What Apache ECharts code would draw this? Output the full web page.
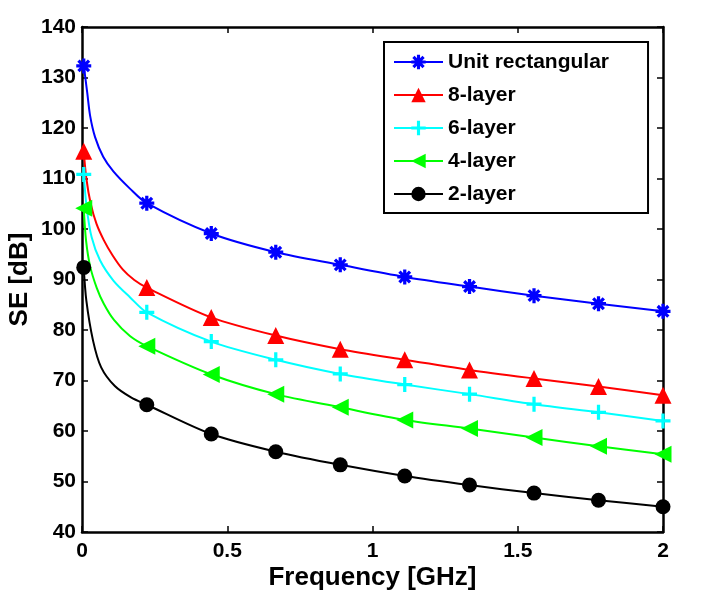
<!DOCTYPE html>
<html>
<head>
<meta charset="utf-8">
<script src="https://cdn.jsdelivr.net/npm/echarts@6/dist/echarts.min.js"></script>
<style>
  html, body { margin: 0; padding: 0; background: #fff; }
  #main { width: 708px; height: 596px; }
</style>
</head>
<body>
<div id="main"></div>
<script>
// marker positions (GHz)
var freqMarks = [0.006, 0.223, 0.445, 0.667, 0.889, 1.111, 1.334, 1.556, 1.778, 2.0];

// SE values at the markers (dB)
var unitRect = [132.3, 105.1, 99.1, 95.4, 92.9, 90.5, 88.6, 86.8, 85.2, 83.7];
var layer8 = [115.4, 88.4, 82.5, 78.9, 76.2, 74.1, 72.1, 70.4, 68.8, 67.1];
var layer6 = [110.8, 83.5, 77.7, 74.1, 71.3, 69.2, 67.3, 65.3, 63.7, 62.0];
var layer4 = [104.1, 76.8, 71.2, 67.3, 64.7, 62.2, 60.5, 58.7, 57.0, 55.4];
var layer2 = [92.4, 65.2, 59.4, 55.9, 53.3, 51.1, 49.3, 47.7, 46.3, 45.0];

// extra points read off the steep part of each curve (no marker)
var unitRectCurve = [[0.010, 130.6], [0.018, 127.0], [0.028, 122.4], [0.045, 118.2], [0.073, 114.3], [0.108, 111.4], [0.165, 108.0]];
var layer8Curve = [[0.015, 110.0], [0.030, 105.0], [0.050, 101.0], [0.075, 97.8], [0.105, 94.8], [0.140, 92.0], [0.180, 89.9]];
var layer6Curve = [[0.016, 104.3], [0.033, 98.4], [0.062, 93.8], [0.108, 89.8], [0.165, 86.5]];
var layer4Curve = [[0.014, 97.7], [0.028, 92.6], [0.051, 88.3], [0.075, 85.2], [0.110, 82.0], [0.165, 78.8]];
var layer2Curve = [[0.015, 85.8], [0.038, 77.9], [0.066, 72.6], [0.113, 68.9], [0.170, 66.6]];

var yTicks = [40, 50, 60, 70, 80, 90, 100, 110, 120, 130, 140];

var asterisk = 'path://M-1.3,-6L1.3,-6L1.3,6L-1.3,6Z M-6,-1.3L6,-1.3L6,1.3L-6,1.3Z ' +
  'M-5.16,-3.32L-3.32,-5.16L5.16,3.32L3.32,5.16Z M-3.32,5.16L-5.16,3.32L3.32,-5.16L5.16,-3.32Z';
var plus = 'path://M-1.3,-6L1.3,-6L1.3,6L-1.3,6Z M-6,-1.3L6,-1.3L6,1.3L-6,1.3Z';

var font = 'Liberation Sans, Arial, Helvetica, sans-serif';

function buildData(marks, curve) {
  var pts = marks.map(function (v, i) {
    return { value: [freqMarks[i], v] };
  });
  curve.forEach(function (p) {
    pts.push({ value: p, symbol: 'none' });
  });
  pts.sort(function (a, b) { return a.value[0] - b.value[0]; });
  return pts;
}

function makeSeries(name, color, marks, curve, symbol, size, rotate) {
  return {
    name: name,
    type: 'line',
    smooth: 0.3,
    symbol: symbol,
    symbolSize: size,
    symbolRotate: rotate || 0,
    showAllSymbol: true,
    lineStyle: { color: color, width: 2 },
    itemStyle: { color: color },
    data: buildData(marks, curve)
  };
}

var chart = echarts.init(document.getElementById('main'));

var tickStyle = { show: true, inside: true, length: 6, lineStyle: { color: '#000', width: 1.5 } };
var lineStyle = { show: true, onZero: false, lineStyle: { color: '#000', width: 2.5 } };

chart.setOption({
  animation: false,
  backgroundColor: '#fff',
  grid: { left: 82, right: 45, top: 27, bottom: 64, outerBoundsMode: 'none' },
  legend: {
    orient: 'vertical',
    left: 384,
    top: 42,
    padding: [8, 39, 7, 9],
    itemWidth: 49,
    itemHeight: 18,
    itemGap: 9,
    borderColor: '#000',
    borderWidth: 2,
    backgroundColor: '#fff',
    textStyle: { color: '#000', fontSize: 21, fontWeight: 'bold', fontFamily: font, lineHeight: 24 },
    data: ['Unit rectangular', '8-layer', '6-layer', '4-layer', '2-layer']
  },
  xAxis: [{
    type: 'value',
    min: 0,
    max: 2,
    interval: 0.5,
    position: 'bottom',
    axisLine: lineStyle,
    axisTick: tickStyle,
    splitLine: { show: false },
    axisLabel: { color: '#000', fontSize: 21, fontWeight: 'bold', fontFamily: font, margin: 9 },
    name: 'Frequency [GHz]',
    nameLocation: 'middle',
    nameGap: 33,
    nameMoveOverlap: false,
    nameTextStyle: { color: '#000', fontSize: 26, fontWeight: 'bold', fontFamily: font }
  }, {
    type: 'value',
    min: 0,
    max: 2,
    interval: 0.5,
    position: 'top',
    axisLine: lineStyle,
    axisTick: tickStyle,
    splitLine: { show: false },
    axisLabel: { show: false }
  }],
  yAxis: [{
    type: 'value',
    min: yTicks[0],
    max: yTicks[yTicks.length - 1],
    interval: 10,
    position: 'left',
    axisLine: lineStyle,
    axisTick: tickStyle,
    splitLine: { show: false },
    axisLabel: { color: '#000', fontSize: 21, fontWeight: 'bold', fontFamily: font, margin: 6 },
    name: 'SE [dB]',
    nameLocation: 'middle',
    nameGap: 49,
    nameMoveOverlap: false,
    nameTextStyle: { color: '#000', fontSize: 26, fontWeight: 'bold', fontFamily: font }
  }, {
    type: 'value',
    min: yTicks[0],
    max: yTicks[yTicks.length - 1],
    interval: 10,
    position: 'right',
    axisLine: lineStyle,
    axisTick: tickStyle,
    splitLine: { show: false },
    axisLabel: { show: false }
  }],
  series: [
    makeSeries('Unit rectangular', '#0000ff', unitRect, unitRectCurve, asterisk, 15),
    makeSeries('8-layer', '#ff0000', layer8, layer8Curve, 'triangle', 17),
    makeSeries('6-layer', '#00ffff', layer6, layer6Curve, plus, 15),
    makeSeries('4-layer', '#00ff00', layer4, layer4Curve, 'triangle', 17, 90),
    makeSeries('2-layer', '#000000', layer2, layer2Curve, 'circle', 15)
  ]
});
</script>
</body>
</html>
